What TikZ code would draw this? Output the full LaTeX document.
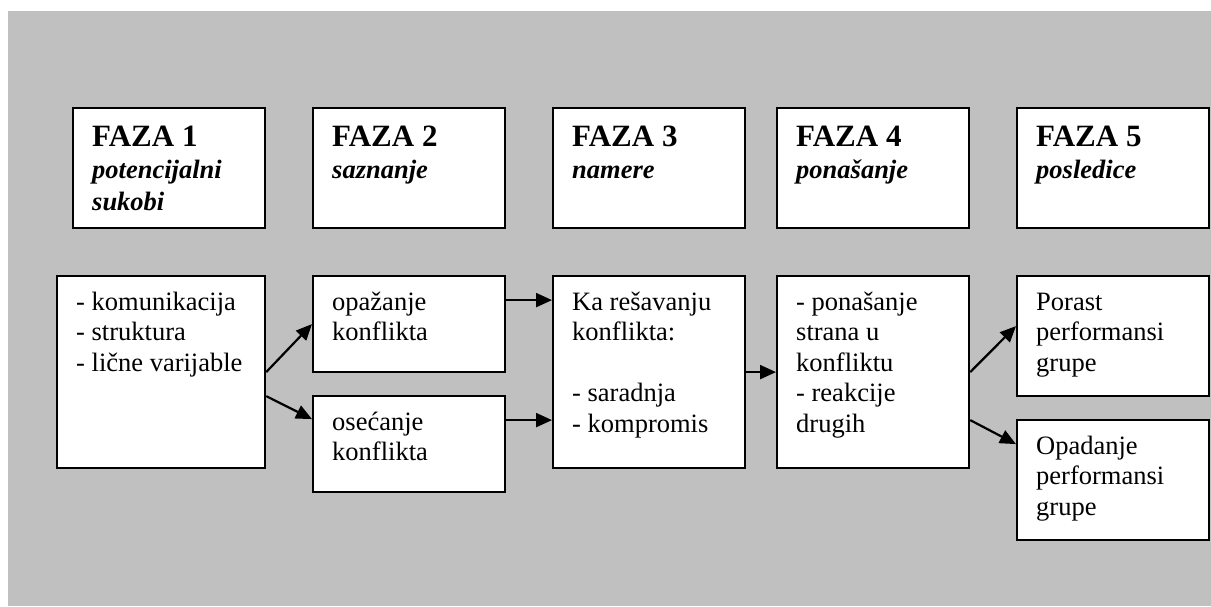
\documentclass[tikz,border=0pt]{standalone}
\usepackage{fontspec}
\setmainfont{Liberation Serif}
\usetikzlibrary{arrows.meta,calc}

\definecolor{bggray}{RGB}{192,192,192}

% stacked lines, baseline of the whole block = baseline of its first line
\newcommand\stacklines[1]{\vtop{\halign{##\hfil\cr#1\crcr}}}
\newcommand\headtext[2]{\fontsize{31}{32}\selectfont\bfseries
  \stacklines{#1\cr\fontsize{26.5}{32}\selectfont\bfseries\itshape #2}}
\newcommand\bodytext[1]{\fontsize{26.5}{30.5}\selectfont\stacklines{#1}}

\begin{document}
\begin{tikzpicture}[x=1pt,y=-1pt,
  box/.style={draw=black, line width=2.2pt, fill=white, inner sep=0pt,
    anchor=north west, minimum width=192pt},
  headbox/.style={box, minimum height=120pt},
  txt/.style={anchor=base west, inner sep=0pt, align=left},
  arr/.style={line width=2.2pt, -{Triangle[length=16pt,width=14pt]}}]

\useasboundingbox (0,0) rectangle (1211,606);
\fill[bggray] (8,11) rectangle (1211,606);

% phase headers
\node[headbox] (h1) at (72,107) {};
\node[headbox] (h2) at (312,107) {};
\node[headbox] (h3) at (552,107) {};
\node[headbox] (h4) at (776,107) {};
\node[headbox] (h5) at (1016,107) {};

\node[txt] (h1t) at ($(h1.north west)+(20,39)$)
  {\fontsize{31}{32}\selectfont\bfseries\stacklines{FAZA 1\cr
   \fontsize{26.5}{32}\selectfont\bfseries\itshape potencijalni\cr
   \fontsize{26.5}{32}\selectfont\bfseries\itshape sukobi}};
\node[txt] (h2t) at ($(h2.north west)+(20,39)$) {\headtext{FAZA 2}{saznanje}};
\node[txt] (h3t) at ($(h3.north west)+(20,39)$) {\headtext{FAZA 3}{namere}};
\node[txt] (h4t) at ($(h4.north west)+(20,39)$) {\headtext{FAZA 4}{ponašanje}};
\node[txt] (h5t) at ($(h5.north west)+(20,39)$) {\headtext{FAZA 5}{posledice}};

% process boxes
\node[box, minimum width=208pt, minimum height=192pt] (b1) at (56,275) {};
\node[box, minimum height=96pt] (b2a) at (312,275) {};
\node[box, minimum height=96pt] (b2b) at (312,395) {};
\node[box, minimum height=192pt] (b3) at (552,275) {};
\node[box, minimum height=192pt] (b4) at (776,275) {};
\node[box, minimum height=120pt] (b5a) at (1016,275) {};
\node[box, minimum height=120pt] (b5b) at (1016,419) {};

\node[txt] (b1t) at ($(b1.north west)+(20,35)$)
  {\bodytext{- komunikacija\cr - struktura\cr - lične varijable}};
\node[txt] (b2at) at ($(b2a.north west)+(20,35)$)
  {\bodytext{opažanje\cr konflikta}};
\node[txt] (b2bt) at ($(b2b.north west)+(20,35)$)
  {\bodytext{osećanje\cr konflikta}};
\node[txt] (b3t) at ($(b3.north west)+(20,35)$)
  {\bodytext{Ka rešavanju\cr konflikta:\cr \cr - saradnja\cr - kompromis}};
\node[txt] (b4t) at ($(b4.north west)+(20,35)$)
  {\bodytext{- ponašanje\cr strana u\cr konfliktu\cr - reakcije\cr drugih}};
\node[txt] (b5at) at ($(b5a.north west)+(20,35)$)
  {\bodytext{Porast\cr performansi\cr grupe}};
\node[txt] (b5bt) at ($(b5b.north west)+(20,35)$)
  {\bodytext{Opadanje\cr performansi\cr grupe}};

% connectors
\draw[arr] (b1.east) -- (b2a.west);
\draw[arr] ([yshift=-24pt]b1.east) -- ([yshift=25pt]b2b.west);
\coordinate (p2a) at ([yshift=24pt]b2a.east);
\coordinate (p2b) at ([yshift=24pt]b2b.east);
\draw[arr] (p2a) -- (p2a -| b3.west);
\draw[arr] (p2b) -- (p2b -| b3.west);
\draw[arr] (b3.east) -- (b4.west);
\draw[arr] (b4.east) -- ([yshift=10pt]b5a.west);
\draw[arr] ([yshift=-48pt]b4.east) -- ([yshift=36pt]b5b.west);
\end{tikzpicture}
\end{document}
